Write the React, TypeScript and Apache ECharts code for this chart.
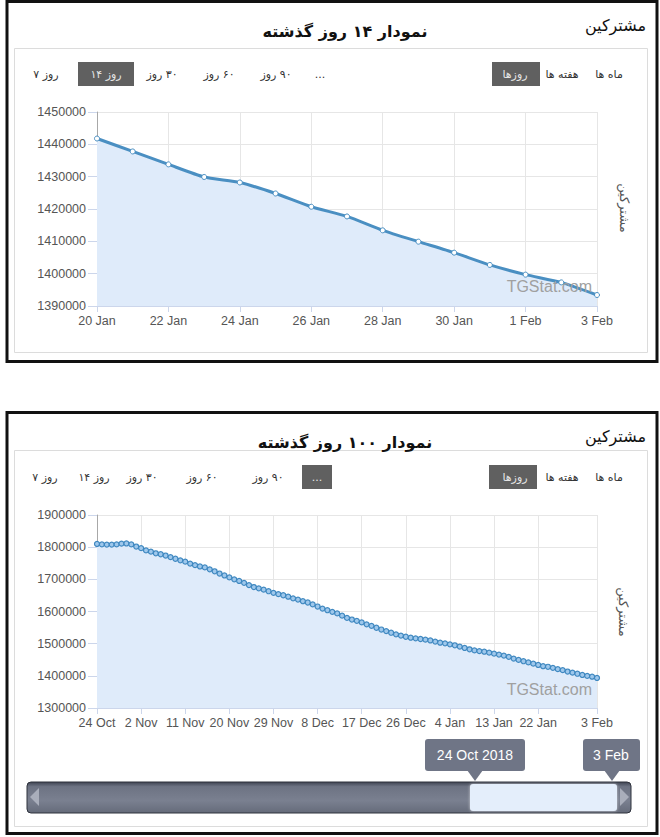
import * as React from "react";
import * as echarts from "echarts";

// 14-day panel
const days14 = [
  "20 Jan", "21 Jan", "22 Jan", "23 Jan", "24 Jan", "25 Jan", "26 Jan", "27 Jan",
  "28 Jan", "29 Jan", "30 Jan", "31 Jan", "1 Feb", "2 Feb", "3 Feb",
];
const subs14 = [
  1441800, 1437800, 1433800, 1429900, 1428200, 1424800, 1420700, 1417700,
  1413400, 1409900, 1406500, 1402700, 1399700, 1397300, 1393400,
];

// 100-day panel (24 Oct 2018 .. 3 Feb 2019)
const monthSpans: [string, number, number][] = [
  ["Oct", 24, 31],
  ["Nov", 1, 30],
  ["Dec", 1, 31],
  ["Jan", 1, 31],
  ["Feb", 1, 3],
];
const days100 = monthSpans.flatMap(([m, a, b]) =>
  Array.from({ length: b - a + 1 }, (_, k) => `${a + k} ${m}`)
);
const subs100 = [
  1810000, 1808500, 1808000, 1808000, 1808500, 1811000, 1811500, 1808500,
  1802000, 1797000, 1790000, 1786000, 1781000, 1778000, 1774000, 1769000,
  1764000, 1759000, 1755000, 1749000, 1744000, 1740000, 1737000, 1731000,
  1725000, 1718000, 1712000, 1706000, 1700000, 1695000, 1689000, 1682000,
  1676000, 1672000, 1668000, 1663000, 1658000, 1654000, 1650500, 1646000,
  1641000, 1637000, 1632000, 1628000, 1622000, 1615500, 1609000, 1604000,
  1599000, 1594000, 1587000, 1580000, 1575000, 1571000, 1566000, 1560000,
  1555500, 1549500, 1544000, 1539000, 1534000, 1529000, 1525000, 1521500,
  1518500, 1516500, 1514500, 1512500, 1510000, 1506500, 1503000, 1501000,
  1498000, 1495000, 1491000, 1486600, 1482500, 1479000, 1477000, 1475000,
  1472000, 1469000, 1466000, 1463000, 1459000, 1453600, 1449500, 1445400,
  1441800, 1437800, 1433800, 1429900, 1428200, 1424800, 1420700, 1417700,
  1413400, 1409900, 1406500, 1402700, 1399700, 1397300, 1393400,
];

const titles = ["نمودار ۱۴ روز گذشته", "نمودار ۱۰۰ روز گذشته"];
const rangeLabels = ["۷ روز", "۱۴ روز", "۳۰ روز", "۶۰ روز", "۹۰ روز", "..."];
const groupLabels = ["روزها", "هفته ها", "ماه ها"];
const sliderLabels = ["24 Oct 2018", "3 Feb"];

const LINE = "#4a8fc2";
const GRID = "#e6e6e6";
const LABEL = "#555";
const FA = "DejaVu Sans";
const EN = "Liberation Sans";
const rtl = (s: string) => "\u202B" + s + "\u202C";
// the first two range buttons show the number on the other side
const rangeRtl = [false, false, true, true, true, false];

function txt(x: number, y: number, text: string, font: string, fill: string, align = "center", extra: any = {}) {
  return {
    type: "text",
    x,
    y,
    z: 20,
    ...extra,
    style: { text, font, fill, align, verticalAlign: "middle" },
  };
}

function buttons(y: number, rangeX: number[], activeRange: number, boxes: number[][]) {
  const els: any[] = [];
  boxes.forEach(([x0, x1]) => {
    els.push({
      type: "rect",
      z: 15,
      shape: { x: x0, y: y - 12, width: x1 - x0, height: 24 },
      style: { fill: "#606060" },
    });
  });
  rangeLabels.forEach((l, i) => {
    const t = rangeRtl[i] ? rtl(l) : l;
    els.push(txt(rangeX[i], y, t, `11px "${FA}"`, i === activeRange ? "#e6e6e6" : "#333"));
  });
  const gx = [515, 562, 609];
  groupLabels.forEach((l, i) => {
    els.push(txt(gx[i], y, l, `11px "${FA}"`, i === 0 ? "#e6e6e6" : "#333"));
  });
  return els;
}

function panel(top: number, height: number, innerTop: number, innerBottom: number, title: string) {
  return [
    {
      type: "rect",
      z: 10,
      shape: { x: 7, y: top, width: 650, height },
      style: { fill: "none", stroke: "#111", lineWidth: 3 },
    },
    {
      type: "rect",
      z: 10,
      shape: { x: 14.5, y: innerTop + 0.5, width: 633, height: innerBottom - innerTop },
      style: { fill: "none", stroke: "#dcdcdc", lineWidth: 1 },
    },
    txt(345, top + 30, title, `bold 16px "${FA}"`, "#111"),
    txt(646, top + 24, "مشترکین", `16px "${FA}"`, "#111", "right"),
  ];
}

function xAxis(gridIndex: number, data: string[], interval: any) {
  return {
    type: "category",
    gridIndex,
    data,
    boundaryGap: false,
    axisLine: { show: true, lineStyle: { color: "#ccd6eb" } },
    axisTick: { show: true, length: 6, interval, lineStyle: { color: "#ccd6eb" } },
    axisLabel: { interval, color: LABEL, fontSize: 12.5, fontFamily: EN, margin: 8 },
    splitLine: { show: true, interval, lineStyle: { color: GRID } },
  };
}

function yAxis(gridIndex: number, min: number, max: number, interval: number) {
  return {
    type: "value",
    gridIndex,
    min,
    max,
    interval,
    axisLine: { show: true, lineStyle: { color: "#a8a8a8" } },
    axisTick: { show: true, length: 9, lineStyle: { color: "#ccd6eb" } },
    axisLabel: {
      color: LABEL,
      fontSize: 12.5,
      fontFamily: EN,
      margin: 11,
      formatter: (v: number) => String(v),
    },
    splitLine: { show: true, lineStyle: { color: GRID } },
  };
}

export default function App() {
  const ref = React.useRef<HTMLDivElement | null>(null);

  React.useEffect(() => {
    if (!ref.current) return;
    const chart = echarts.init(ref.current, null, { renderer: "svg" });

    const every9 = (i: number) => (i % 9 === 0 && i <= 90) || i === days100.length - 1;

    const sliderGradient = new echarts.graphic.LinearGradient(0, 0, 0, 1, [
      { offset: 0, color: "#3f4452" },
      { offset: 0.15, color: "#6d7383" },
      { offset: 0.6, color: "#7a8090" },
      { offset: 1, color: "#656b7a" },
    ]);

    const graphics: any[] = [
      ...panel(1.5, 360, 48, 352, titles[0]),
      ...panel(412.5, 421, 450, 826, titles[1]),
      ...buttons(74, [46, 106, 162, 219, 276, 320], 1, [[78, 134], [492, 540]]),
      ...buttons(477, [45, 94, 142, 202, 268, 317], 5, [[302, 332], [489, 537]]),
      txt(592, 286, "TGStat.com", `16px "${EN}"`, "#a0a0a0", "right"),
      txt(592, 689, "TGStat.com", `16px "${EN}"`, "#a0a0a0", "right"),
      txt(624, 208, "مشترکین", `13px "${FA}"`, LABEL, "center", { rotation: -Math.PI / 2 }),
      txt(623, 612, "مشترکین", `13px "${FA}"`, LABEL, "center", { rotation: -Math.PI / 2 }),
      // navigator bar
      {
        type: "rect",
        z: 12,
        shape: { x: 27, y: 782, width: 604, height: 31, r: 4 },
        style: { fill: sliderGradient, stroke: "#2e323c", lineWidth: 1 },
      },
      {
        type: "rect",
        z: 13,
        shape: { x: 470, y: 784, width: 147, height: 27, r: 3 },
        style: { fill: "#e4eefb", shadowBlur: 3, shadowColor: "rgba(255,255,255,0.6)" },
      },
      {
        type: "polygon",
        z: 13,
        shape: { points: [[30, 797], [39, 788], [39, 806]] },
        style: { fill: "#a9aebb" },
      },
      {
        type: "polygon",
        z: 13,
        shape: { points: [[629, 797], [620, 788], [620, 806]] },
        style: { fill: "#a9aebb" },
      },
      // handle tooltips
      {
        type: "rect",
        z: 14,
        shape: { x: 425, y: 739, width: 100, height: 32, r: 3 },
        style: { fill: "#6f7586" },
      },
      {
        type: "polygon",
        z: 14,
        shape: { points: [[467, 770], [483, 770], [475, 781]] },
        style: { fill: "#6f7586" },
      },
      {
        type: "rect",
        z: 14,
        shape: { x: 583, y: 739, width: 57, height: 32, r: 3 },
        style: { fill: "#6f7586" },
      },
      {
        type: "polygon",
        z: 14,
        shape: { points: [[604, 770], [620, 770], [612, 781]] },
        style: { fill: "#6f7586" },
      },
      txt(475, 755, sliderLabels[0], `14px "${EN}"`, "#ffffff"),
      txt(611, 755, sliderLabels[1], `14px "${EN}"`, "#ffffff"),
    ];

    chart.setOption({
      animation: false,
      backgroundColor: "#ffffff",
      grid: [
        { left: 97, top: 112, width: 500, height: 194, outerBoundsMode: "none" },
        { left: 97, top: 515, width: 500, height: 193, outerBoundsMode: "none" },
      ],
      xAxis: [xAxis(0, days14, 1), xAxis(1, days100, every9)],
      yAxis: [yAxis(0, 1390000, 1450000, 10000), yAxis(1, 1300000, 1900000, 100000)],
      series: [
        {
          type: "line",
          xAxisIndex: 0,
          yAxisIndex: 0,
          data: subs14,
          smooth: 0.2,
          symbol: "circle",
          symbolSize: 5,
          showAllSymbol: true,
          lineStyle: { color: LINE, width: 3 },
          itemStyle: { color: "#ffffff", borderColor: LINE, borderWidth: 1 },
          areaStyle: { color: "#dfebfa", opacity: 1 },
        },
        {
          type: "line",
          xAxisIndex: 1,
          yAxisIndex: 1,
          data: subs100,
          symbol: "circle",
          symbolSize: 5,
          showAllSymbol: true,
          lineStyle: { color: LINE, width: 2 },
          itemStyle: { color: "#9fc8ec", borderColor: "#3f88c0", borderWidth: 1.2 },
          areaStyle: { color: "#dfebfa", opacity: 1 },
        },
      ],
      graphic: graphics,
    });

    return () => chart.dispose();
  }, []);

  return (
    <div
      ref={ref}
      style={{ position: "absolute", left: 0, top: 0, width: 660, height: 837, background: "#fff" }}
    />
  );
}
